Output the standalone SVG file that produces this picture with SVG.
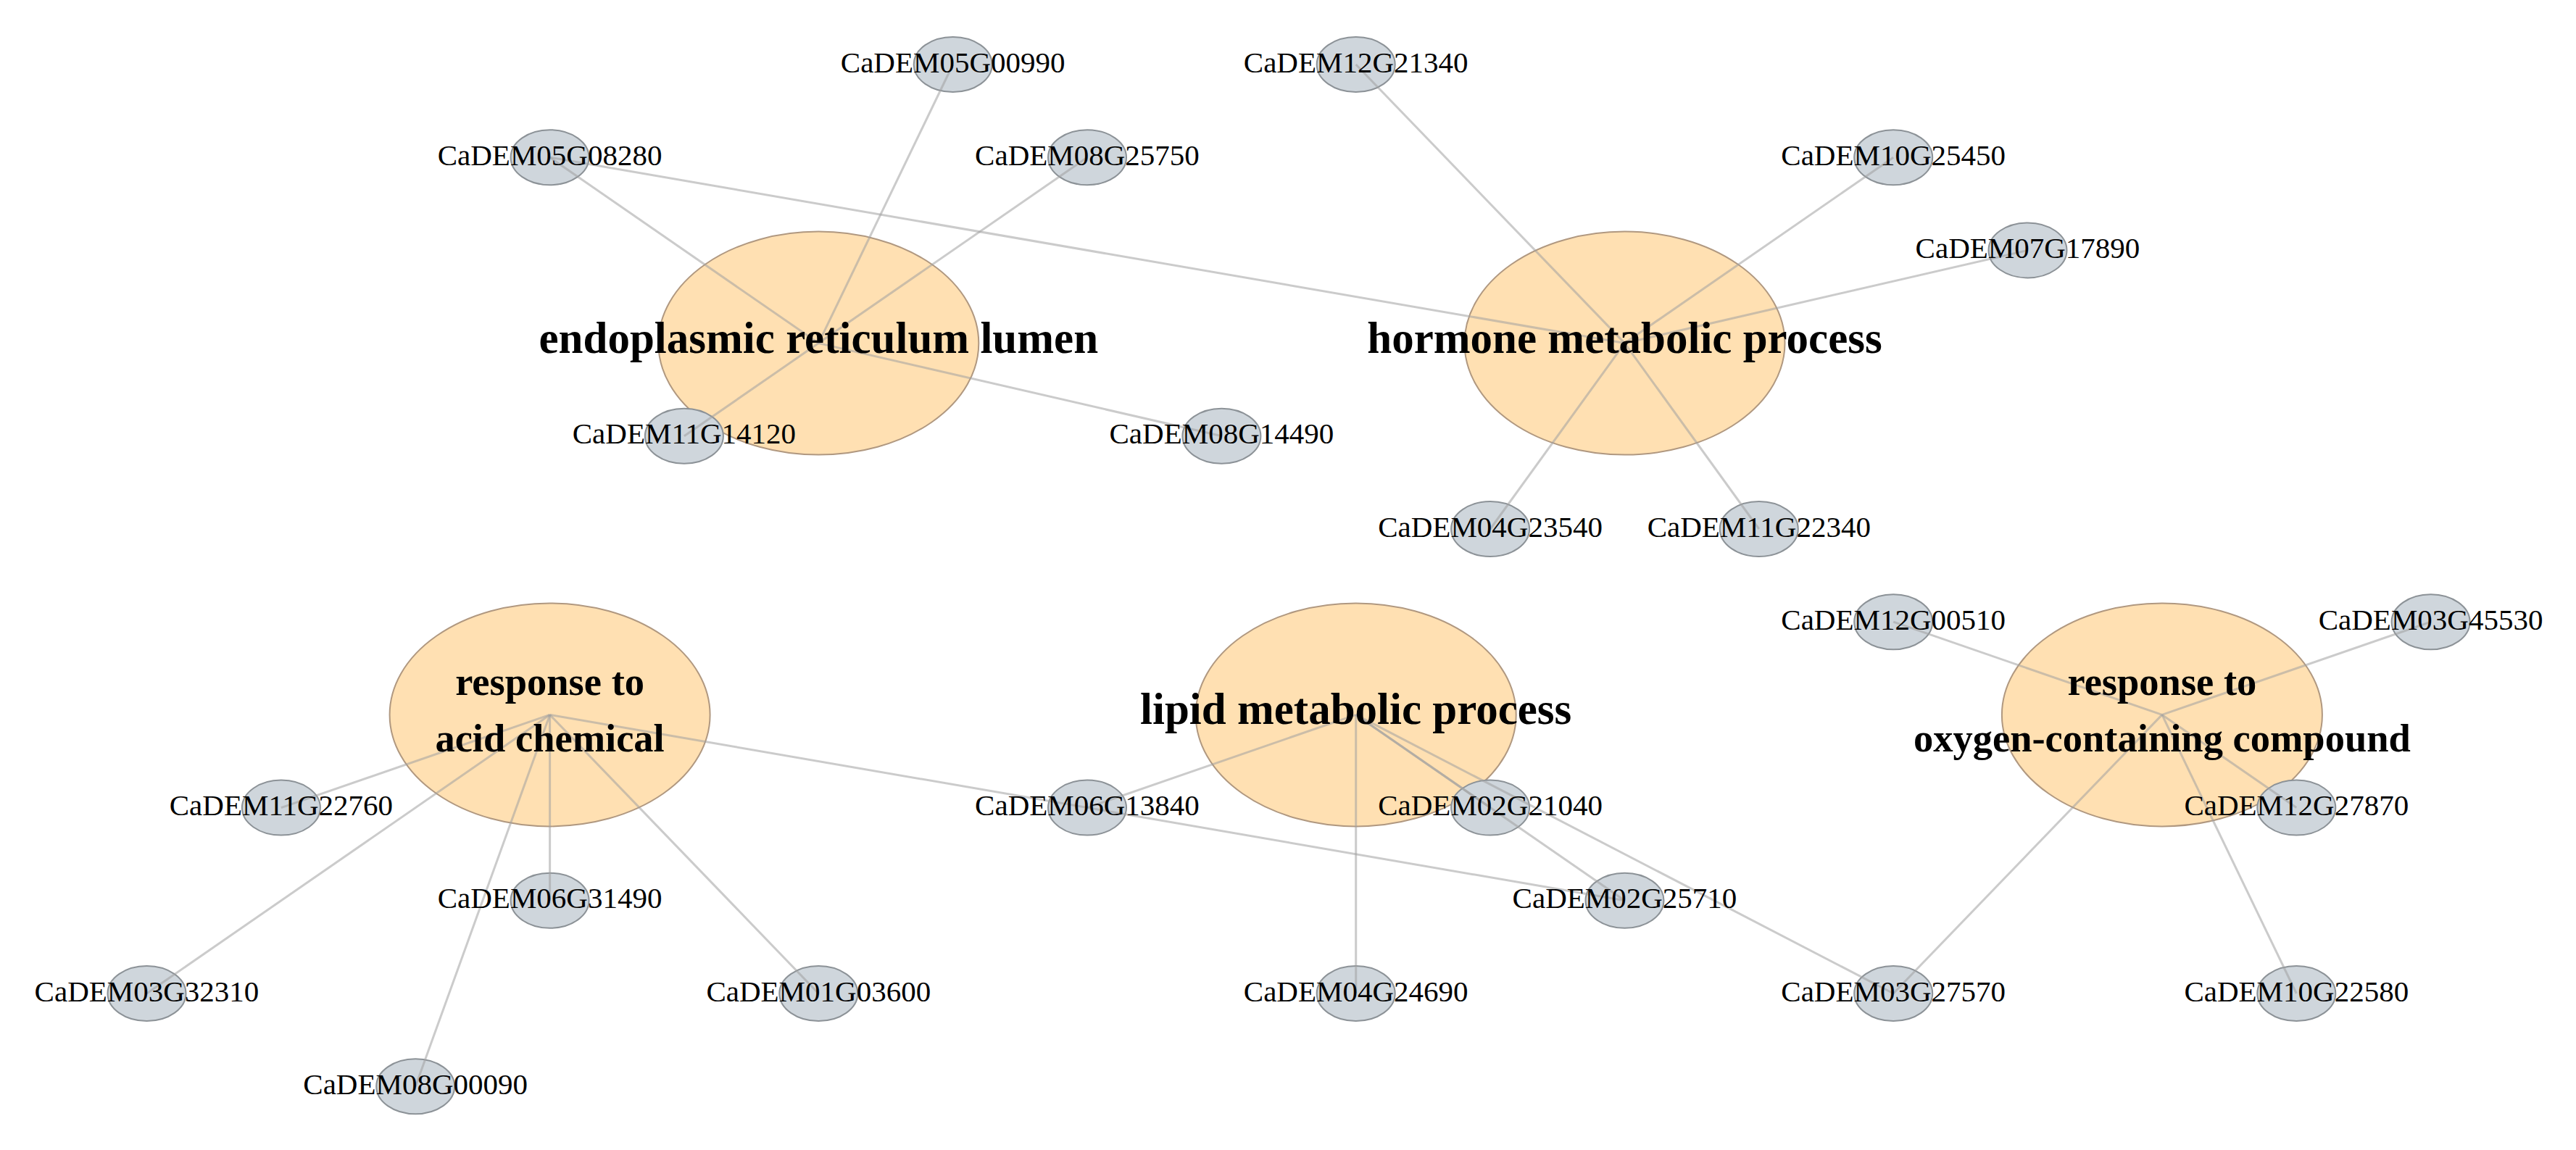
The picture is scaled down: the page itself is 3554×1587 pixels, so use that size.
<svg xmlns="http://www.w3.org/2000/svg" width="3554" height="1587" viewBox="0 0 3554 1587">
<style>
.hub{fill:#FFE0B2;stroke:#B09880;stroke-width:2}
.gene{fill:#CFD6DC;stroke:#8C9297;stroke-width:2}
.edge{stroke:#A0A0A0;stroke-opacity:0.55;stroke-width:3;fill:none}
.gl{font-family:"Liberation Serif","Times New Roman",serif;font-size:41px;fill:#000;text-anchor:middle}
.hl{font-family:"Liberation Serif","Times New Roman",serif;font-size:61px;font-weight:bold;fill:#000;text-anchor:middle}
.hl2{font-family:"Liberation Serif","Times New Roman",serif;font-size:54.5px;font-weight:bold;fill:#000;text-anchor:middle}
</style>
<rect width="3554" height="1587" fill="#FFFFFF"/>
<g id="node-shapes">
<g id="hub-er"><ellipse class="hub" cx="1129.3" cy="473.6" rx="221" ry="154"/></g>
<g id="hub-hormone"><ellipse class="hub" cx="2241.5" cy="473.6" rx="221" ry="154"/></g>
<g id="hub-acid"><ellipse class="hub" cx="758.6" cy="986.4" rx="221" ry="154"/></g>
<g id="hub-lipid"><ellipse class="hub" cx="1870.7" cy="986.4" rx="221" ry="154"/></g>
<g id="hub-oxygen"><ellipse class="hub" cx="2982.9" cy="986.4" rx="221" ry="154"/></g>
<g id="n-05G00990"><ellipse class="gene" cx="1314.7" cy="89" rx="54" ry="38"/></g>
<g id="n-05G08280"><ellipse class="gene" cx="758.6" cy="217.2" rx="54" ry="38"/></g>
<g id="n-08G25750"><ellipse class="gene" cx="1500" cy="217.2" rx="54" ry="38"/></g>
<g id="n-11G14120"><ellipse class="gene" cx="943.9" cy="601.8" rx="54" ry="38"/></g>
<g id="n-08G14490"><ellipse class="gene" cx="1685.4" cy="601.8" rx="54" ry="38"/></g>
<g id="n-12G21340"><ellipse class="gene" cx="1870.7" cy="89" rx="54" ry="38"/></g>
<g id="n-10G25450"><ellipse class="gene" cx="2612.2" cy="217.2" rx="54" ry="38"/></g>
<g id="n-07G17890"><ellipse class="gene" cx="2797.5" cy="345.4" rx="54" ry="38"/></g>
<g id="n-04G23540"><ellipse class="gene" cx="2056.1" cy="730" rx="54" ry="38"/></g>
<g id="n-11G22340"><ellipse class="gene" cx="2426.8" cy="730" rx="54" ry="38"/></g>
<g id="n-11G22760"><ellipse class="gene" cx="387.9" cy="1114.6" rx="54" ry="38"/></g>
<g id="n-06G31490"><ellipse class="gene" cx="758.6" cy="1242.8" rx="54" ry="38"/></g>
<g id="n-03G32310"><ellipse class="gene" cx="202.5" cy="1371" rx="54" ry="38"/></g>
<g id="n-01G03600"><ellipse class="gene" cx="1129.3" cy="1371" rx="54" ry="38"/></g>
<g id="n-08G00090"><ellipse class="gene" cx="573.2" cy="1499.2" rx="54" ry="38"/></g>
<g id="n-06G13840"><ellipse class="gene" cx="1500" cy="1114.6" rx="54" ry="38"/></g>
<g id="n-02G21040"><ellipse class="gene" cx="2056.1" cy="1114.6" rx="54" ry="38"/></g>
<g id="n-02G25710"><ellipse class="gene" cx="2241.5" cy="1242.8" rx="54" ry="38"/></g>
<g id="n-04G24690"><ellipse class="gene" cx="1870.7" cy="1371" rx="54" ry="38"/></g>
<g id="n-12G00510"><ellipse class="gene" cx="2612.2" cy="858.2" rx="54" ry="38"/></g>
<g id="n-03G45530"><ellipse class="gene" cx="3353.6" cy="858.2" rx="54" ry="38"/></g>
<g id="n-12G27870"><ellipse class="gene" cx="3168.3" cy="1114.6" rx="54" ry="38"/></g>
<g id="n-10G22580"><ellipse class="gene" cx="3168.3" cy="1371" rx="54" ry="38"/></g>
<g id="n-03G27570"><ellipse class="gene" cx="2612.2" cy="1371" rx="54" ry="38"/></g>
</g>
<g id="connectors">
<line class="edge" x1="1129.3" y1="473.6" x2="1314.7" y2="89"/>
<line class="edge" x1="1129.3" y1="473.6" x2="758.6" y2="217.2"/>
<line class="edge" x1="1129.3" y1="473.6" x2="1500" y2="217.2"/>
<line class="edge" x1="1129.3" y1="473.6" x2="943.9" y2="601.8"/>
<line class="edge" x1="1129.3" y1="473.6" x2="1685.4" y2="601.8"/>
<line class="edge" x1="2241.5" y1="473.6" x2="758.6" y2="217.2"/>
<line class="edge" x1="2241.5" y1="473.6" x2="1870.7" y2="89"/>
<line class="edge" x1="2241.5" y1="473.6" x2="2612.2" y2="217.2"/>
<line class="edge" x1="2241.5" y1="473.6" x2="2797.5" y2="345.4"/>
<line class="edge" x1="2241.5" y1="473.6" x2="2056.1" y2="730"/>
<line class="edge" x1="2241.5" y1="473.6" x2="2426.8" y2="730"/>
<line class="edge" x1="758.6" y1="986.4" x2="387.9" y2="1114.6"/>
<line class="edge" x1="758.6" y1="986.4" x2="758.6" y2="1242.8"/>
<line class="edge" x1="758.6" y1="986.4" x2="202.5" y2="1371"/>
<line class="edge" x1="758.6" y1="986.4" x2="1129.3" y2="1371"/>
<line class="edge" x1="758.6" y1="986.4" x2="573.2" y2="1499.2"/>
<line class="edge" x1="758.6" y1="986.4" x2="2241.5" y2="1242.8"/>
<line class="edge" x1="1870.7" y1="986.4" x2="1500" y2="1114.6"/>
<line class="edge" x1="1870.7" y1="986.4" x2="2056.1" y2="1114.6"/>
<line class="edge" x1="1870.7" y1="986.4" x2="2241.5" y2="1242.8"/>
<line class="edge" x1="1870.7" y1="986.4" x2="1870.7" y2="1371"/>
<line class="edge" x1="1870.7" y1="986.4" x2="2612.2" y2="1371"/>
<line class="edge" x1="2982.9" y1="986.4" x2="2612.2" y2="858.2"/>
<line class="edge" x1="2982.9" y1="986.4" x2="3353.6" y2="858.2"/>
<line class="edge" x1="2982.9" y1="986.4" x2="3168.3" y2="1114.6"/>
<line class="edge" x1="2982.9" y1="986.4" x2="3168.3" y2="1371"/>
<line class="edge" x1="2982.9" y1="986.4" x2="2612.2" y2="1371"/>
</g>
<g id="labels">
<text class="hl" x="1129.3" y="486.6">endoplasmic reticulum lumen</text>
<text class="hl" x="2241.5" y="486.6">hormone metabolic process</text>
<text class="hl2" x="758.6" y="959.4">response to</text>
<text class="hl2" x="758.6" y="1037">acid chemical</text>
<text class="hl" x="1870.7" y="999.4">lipid metabolic process</text>
<text class="hl2" x="2982.9" y="959.4">response to</text>
<text class="hl2" x="2982.9" y="1037">oxygen-containing compound</text>
<text class="gl" x="1314.7" y="99.5">CaDEM05G00990</text>
<text class="gl" x="758.6" y="227.7">CaDEM05G08280</text>
<text class="gl" x="1500" y="227.7">CaDEM08G25750</text>
<text class="gl" x="943.9" y="612.3">CaDEM11G14120</text>
<text class="gl" x="1685.4" y="612.3">CaDEM08G14490</text>
<text class="gl" x="1870.7" y="99.5">CaDEM12G21340</text>
<text class="gl" x="2612.2" y="227.7">CaDEM10G25450</text>
<text class="gl" x="2797.5" y="355.9">CaDEM07G17890</text>
<text class="gl" x="2056.1" y="740.5">CaDEM04G23540</text>
<text class="gl" x="2426.8" y="740.5">CaDEM11G22340</text>
<text class="gl" x="387.9" y="1125.1">CaDEM11G22760</text>
<text class="gl" x="758.6" y="1253.3">CaDEM06G31490</text>
<text class="gl" x="202.5" y="1381.5">CaDEM03G32310</text>
<text class="gl" x="1129.3" y="1381.5">CaDEM01G03600</text>
<text class="gl" x="573.2" y="1509.7">CaDEM08G00090</text>
<text class="gl" x="1500" y="1125.1">CaDEM06G13840</text>
<text class="gl" x="2056.1" y="1125.1">CaDEM02G21040</text>
<text class="gl" x="2241.5" y="1253.3">CaDEM02G25710</text>
<text class="gl" x="1870.7" y="1381.5">CaDEM04G24690</text>
<text class="gl" x="2612.2" y="868.7">CaDEM12G00510</text>
<text class="gl" x="3353.6" y="868.7">CaDEM03G45530</text>
<text class="gl" x="3168.3" y="1125.1">CaDEM12G27870</text>
<text class="gl" x="3168.3" y="1381.5">CaDEM10G22580</text>
<text class="gl" x="2612.2" y="1381.5">CaDEM03G27570</text>
</g>
</svg>
